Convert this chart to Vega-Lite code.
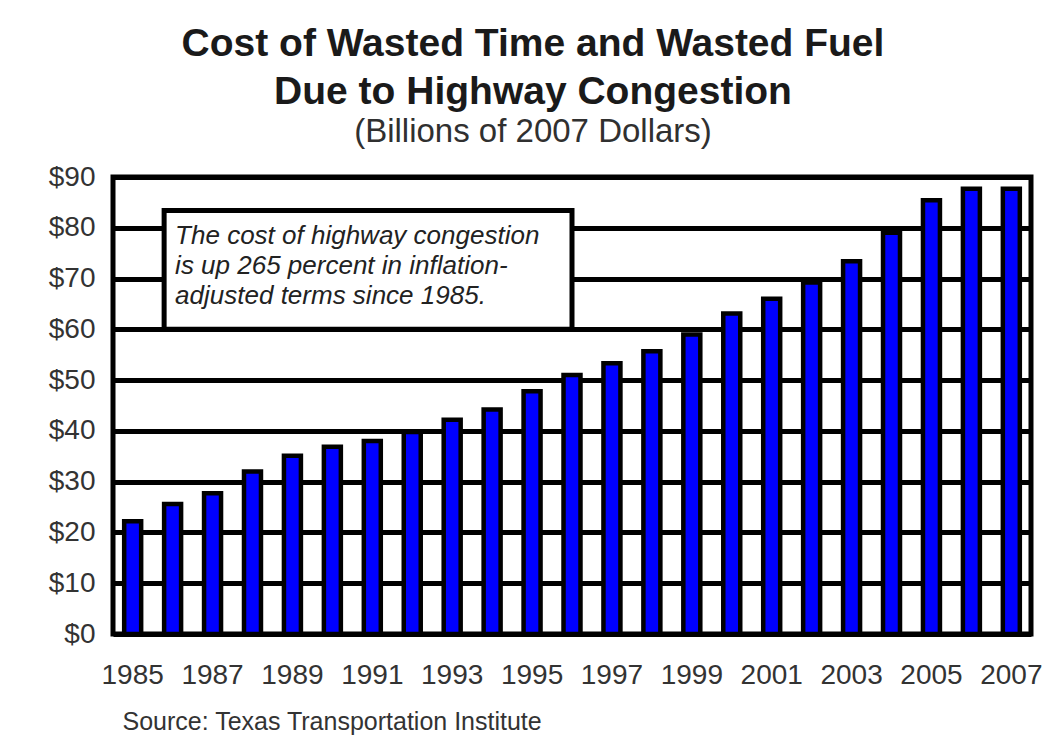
{
  "$schema": "https://vega.github.io/schema/vega-lite/v6.json",
  "width": 918,
  "height": 457,
  "autosize": "none",
  "padding": {"left": 113, "top": 177, "right": 14, "bottom": 121},
  "background": "white",
  "title": {
    "text": ["Cost of Wasted Time and Wasted Fuel", "Due to Highway Congestion"],
    "subtitle": "(Billions of 2007 Dollars)",
    "anchor": "middle",
    "frame": "group",
    "dx": -39,
    "font": "Liberation Sans",
    "fontSize": 39,
    "fontWeight": "bold",
    "color": "#1a1a1a",
    "lineHeight": 48,
    "subtitleFont": "Liberation Sans",
    "subtitleFontSize": 33,
    "subtitleFontWeight": "normal",
    "subtitleColor": "#303030",
    "subtitlePadding": 4,
    "offset": 14
  },
  "config": {
    "view": {"stroke": "black", "strokeWidth": 5},
    "font": "Liberation Sans"
  },
  "data": {
    "values": [
      {"year": "1985", "cost": 22.2},
      {"year": "1986", "cost": 25.6},
      {"year": "1987", "cost": 27.7},
      {"year": "1988", "cost": 32.0},
      {"year": "1989", "cost": 35.1},
      {"year": "1990", "cost": 36.9},
      {"year": "1991", "cost": 38.0},
      {"year": "1992", "cost": 39.8},
      {"year": "1993", "cost": 42.2},
      {"year": "1994", "cost": 44.2},
      {"year": "1995", "cost": 47.8},
      {"year": "1996", "cost": 51.0},
      {"year": "1997", "cost": 53.3},
      {"year": "1998", "cost": 55.7},
      {"year": "1999", "cost": 59.0},
      {"year": "2000", "cost": 63.1},
      {"year": "2001", "cost": 66.0},
      {"year": "2002", "cost": 69.2},
      {"year": "2003", "cost": 73.4},
      {"year": "2004", "cost": 79.0},
      {"year": "2005", "cost": 85.4},
      {"year": "2006", "cost": 87.7},
      {"year": "2007", "cost": 87.7}
    ]
  },
  "layer": [
    {
      "mark": {"type": "bar", "fill": "#0000ff", "stroke": "black", "strokeWidth": 4.5},
      "encoding": {
        "x": {
          "field": "year",
          "type": "ordinal",
          "scale": {"paddingInner": 0.575, "paddingOuter": 0.28},
          "axis": {
            "values": ["1985", "1987", "1989", "1991", "1993", "1995", "1997", "1999", "2001", "2003", "2005", "2007"],
            "labelAngle": 0,
            "ticks": false,
            "domain": false,
            "grid": false,
            "labelFont": "Liberation Sans",
            "labelFontSize": 28,
            "labelColor": "#333333",
            "labelPadding": 27,
            "labelOverlap": false,
            "title": "Source: Texas Transportation Institute",
            "titleFont": "Liberation Sans",
            "titleFontSize": 25,
            "titleFontWeight": "normal",
            "titleColor": "#333333",
            "titleAnchor": "start",
            "titleAlign": "left",
            "titleBaseline": "alphabetic",
            "titleX": 9,
            "titleY": 95
          }
        },
        "y": {
          "field": "cost",
          "type": "quantitative",
          "scale": {"domain": [0, 90], "nice": false},
          "axis": {
            "values": [0, 10, 20, 30, 40, 50, 60, 70, 80, 90],
            "labelExpr": "'$' + datum.value",
            "ticks": false,
            "domain": false,
            "grid": true,
            "gridColor": "black",
            "gridWidth": 5,
            "gridOpacity": 1,
            "labelFont": "Liberation Sans",
            "labelFontSize": 28,
            "labelColor": "#333333",
            "labelPadding": 18,
            "title": null
          }
        }
      }
    },
    {
      "data": {"values": [{"note": "annotation"}]},
      "mark": {"type": "rect", "fill": "white", "stroke": "black", "strokeWidth": 5},
      "encoding": {
        "x": {"datum": "1986", "type": "ordinal", "bandPosition": 0},
        "x2": {"datum": "1996", "bandPosition": 0.5},
        "y": {"datum": 83.4, "type": "quantitative"},
        "y2": {"datum": 60}
      }
    },
    {
      "data": {"values": [{"note": "annotation"}]},
      "mark": {
        "type": "text",
        "text": ["The cost of highway congestion", "is up 265 percent in inflation-", "adjusted terms since 1985."],
        "font": "Liberation Sans",
        "fontSize": 26,
        "fontStyle": "italic",
        "color": "#222222",
        "align": "left",
        "baseline": "top",
        "lineHeight": 30,
        "dx": 11,
        "dy": 12
      },
      "encoding": {
        "x": {"datum": "1986", "type": "ordinal", "bandPosition": 0},
        "y": {"datum": 83.4, "type": "quantitative"}
      }
    }
  ]
}
